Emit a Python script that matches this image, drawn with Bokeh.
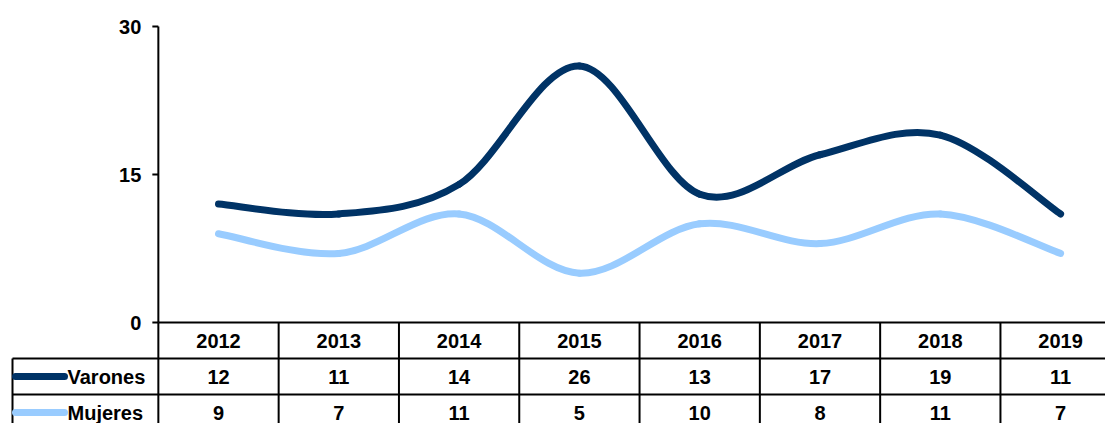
from bokeh.plotting import figure
from bokeh.models import Range1d
from bokeh.core.properties import value
from bokeh.embed import file_html
from bokeh.resources import INLINE

# ---- data ----
years = ["2012", "2013", "2014", "2015", "2016", "2017", "2018", "2019"]
varones = [12, 11, 14, 26, 13, 17, 19, 11]
mujeres = [9, 7, 11, 5, 10, 8, 11, 7]
series_names = ["Varones", "Mujeres"]
y_ticks = [0, 15, 30]

# ---- style / layout ----
colors = ["#003366", "#99CCFF"]
FONT = value("Liberation Sans")
FS = "20px"
W, H = 1105, 423
# pixel geometry (picture coords) -> data coords
X0PX, COLW = 218.0, 120.3        # center of first column, column width
Y0PX, PXU = 322.0, 148.0 / 15.0  # y of value 0, px per unit
ROWH = 36.0 / PXU


def dx(px):
    return (px - X0PX) / COLW


def dy(py):
    return (Y0PX - py) / PXU


p = figure(width=W, height=H,
           x_range=Range1d(dx(0), dx(W)),
           y_range=Range1d(dy(H), dy(0)),
           x_axis_location=None, y_axis_location=None,
           output_backend="svg", toolbar_location=None, min_border=0)
p.grid.visible = False
p.outline_line_color = None
p.background_fill_color = "white"

n = len(years)
xs = list(range(n))


def smooth(xv, yv, t=1.0 / 6.0):
    seg = dict(x0=[], y0=[], x1=[], y1=[], cx0=[], cy0=[], cx1=[], cy1=[])
    m = len(xv)
    for i in range(m - 1):
        a = i - 1 if i > 0 else i
        b = i + 2 if i + 2 < m else i + 1
        seg["x0"].append(xv[i]); seg["y0"].append(yv[i])
        seg["x1"].append(xv[i + 1]); seg["y1"].append(yv[i + 1])
        seg["cx0"].append(xv[i] + (xv[i + 1] - xv[a]) * t)
        seg["cy0"].append(yv[i] + (yv[i + 1] - yv[a]) * t)
        seg["cx1"].append(xv[i + 1] - (xv[b] - xv[i]) * t)
        seg["cy1"].append(yv[i + 1] - (yv[b] - yv[i]) * t)
    return seg


for vals, col in zip([varones, mujeres], colors):
    s = smooth(xs, vals)
    p.bezier(x0=s["x0"], y0=s["y0"], x1=s["x1"], y1=s["y1"],
             cx0=s["cx0"], cy0=s["cy0"], cx1=s["cx1"], cy1=s["cy1"],
             line_color=col, line_width=7, line_cap="round")

# ---- y axis ----
axis_x = -0.5
top = max(y_ticks)
p.segment(x0=[axis_x], y0=[0], x1=[axis_x], y1=[top], line_color="black", line_width=2)
tick_len = 6 / COLW
p.segment(x0=[axis_x - tick_len] * len(y_ticks), y0=y_ticks,
          x1=[axis_x] * len(y_ticks), y1=y_ticks, line_color="black", line_width=2)
p.text(x=[axis_x] * len(y_ticks), y=y_ticks, text=[str(t) for t in y_ticks],
       x_offset=-17, text_align="right", text_baseline="middle",
       text_font=FONT, text_font_size=FS, text_font_style="bold", text_color="black")

# ---- data table ----
right = dx(W + 20)
left_leg = dx(12)
bottom = -3 * ROWH - 2
# horizontal lines
p.segment(x0=[axis_x, left_leg, left_leg], y0=[0, -ROWH, -2 * ROWH],
          x1=[right] * 3, y1=[0, -ROWH, -2 * ROWH], line_color="black", line_width=2)
# vertical lines
vx = [k - 0.5 for k in range(n + 1)]
p.segment(x0=vx, y0=[0] * len(vx), x1=vx, y1=[bottom] * len(vx), line_color="black", line_width=2)
p.segment(x0=[left_leg], y0=[-ROWH], x1=[left_leg], y1=[bottom], line_color="black", line_width=2)

# header
p.text(x=xs, y=[-0.5 * ROWH] * n, text=years, text_align="center", text_baseline="middle",
       text_font=FONT, text_font_size=FS, text_font_style="bold", text_color="black")
for r, (vals, name, col) in enumerate(zip([varones, mujeres], series_names, colors)):
    yc = -(r + 1.5) * ROWH
    p.text(x=xs, y=[yc] * n, text=[str(v) for v in vals], text_align="center",
           text_baseline="middle", text_font=FONT, text_font_size=FS,
           text_font_style="bold", text_color="black")
    p.segment(x0=[dx(15)], y0=[yc], x1=[dx(64)], y1=[yc], line_color=col,
              line_width=7, line_cap="round")
    p.text(x=[dx(67)], y=[yc], text=[name], text_align="left", text_baseline="middle",
           text_font=FONT, text_font_size=FS, text_font_style="bold", text_color="black")

open("out.html", "w").write(file_html(p, INLINE))
